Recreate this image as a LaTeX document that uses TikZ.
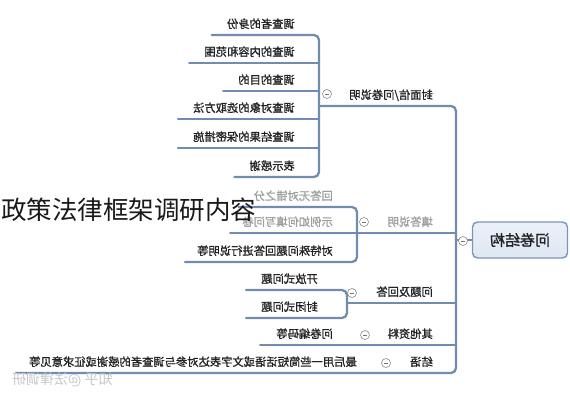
\documentclass[tikz,border=0pt]{standalone}
\usepackage{fontspec}
\setmainfont{Noto Sans CJK SC}
\newfontfamily\lblfont{Noto Sans CJK SC}[FakeBold=1.2]
\usepackage{graphicx}
\definecolor{ln}{RGB}{112,140,178}
\definecolor{rootfill}{RGB}{222,231,243}
\definecolor{rootdraw}{RGB}{125,148,182}
\definecolor{txt}{RGB}{34,34,34}
\begin{document}
\begin{tikzpicture}[x=1pt,y=-1pt,
  lbl/.style={font=\lblfont\fontsize{11.3}{13}\selectfont, text=txt, inner sep=0pt, anchor=base east},
  faded/.style={lbl, text=black!38},
  conn/.style={draw=ln, line width=2.3pt, rounded corners=5pt, line cap=round},
  tog/.style={circle, draw=black!45, fill=white, line width=0.6pt, minimum size=9pt, inner sep=0pt,
    path picture={\draw[black!55, line width=0.6pt] ([xshift=-2.3pt]path picture bounding box.center) -- ([xshift=2.3pt]path picture bounding box.center);}},
  rootbox/.style={draw=rootdraw, top color=rootfill!60, bottom color=rootfill, line width=1.4pt, rounded corners=5pt,
    minimum width=95pt, minimum height=36pt, font=\lblfont\fontsize{15}{17}\selectfont, text=txt}
]
\useasboundingbox (0,0) rectangle (570,400);

% ---- coordinates of the tree skeleton
\coordinate (g1a) at (319,35);
\coordinate (g1b) at (319,63);
\coordinate (g1c) at (319,91);
\coordinate (g1d) at (319,119);
\coordinate (g1e) at (319,148);
\coordinate (g1f) at (319,177);
\coordinate (g1j) at (319,106);
\coordinate (tr1) at (456,106);
\coordinate (tr2) at (456,233);
\coordinate (tr3) at (456,303);
\coordinate (tr4) at (456,345);
\coordinate (tr5) at (456,373);
\coordinate (g2a) at (357,207);
\coordinate (g2b) at (357,233);
\coordinate (g2c) at (357,262);
\coordinate (g3a) at (347,290);
\coordinate (g3j) at (347,303);
\coordinate (g3b) at (347,318);

% ---- root
\node[rootbox] (root) at (520,240) {\reflectbox{问卷结构}};

% ---- level 1 labels
\node[lbl]   (L1) at (433,99)  {\reflectbox{封面信/问卷说明}};
\node[faded] (L2) at (433,226) {\reflectbox{填答说明}};
\node[lbl]   (L3) at (433,296) {\reflectbox{问题及回答}};
\node[lbl]   (L4) at (433,338) {\reflectbox{其他资料}};
\node[lbl]   (L5) at (433,366) {\reflectbox{结语}};

% ---- level 2 labels
\node[lbl] (n11) at (295,28)  {\reflectbox{调查者的身份}};
\node[lbl] (n12) at (295,56)  {\reflectbox{调查的内容和范围}};
\node[lbl] (n13) at (295,84)  {\reflectbox{调查的目的}};
\node[lbl] (n14) at (295,112) {\reflectbox{调查对象的选取方法}};
\node[lbl] (n15) at (295,141) {\reflectbox{调查结果的保密措施}};
\node[lbl] (n16) at (295,170) {\reflectbox{表示感谢}};

\node[faded] (n21) at (333,200) {\reflectbox{回答无对错之分}};
\node[faded] (n22) at (333,226) {\reflectbox{示例如何填写问卷}};
\node[lbl]   (n23) at (333,255) {\reflectbox{对特殊问题回答进行说明等}};

\node[lbl] (n31) at (318,283) {\reflectbox{开放式问题}};
\node[lbl] (n32) at (318,311) {\reflectbox{封闭式问题}};

\node[lbl] (n41) at (333,338) {\reflectbox{问卷编码等}};

\node[lbl] (n51) at (357,366) {\reflectbox{最后用一些简短话语或文字表达对参与调查者的感谢或征求意见等}};

% ---- connectors
\draw[conn] ([xshift=-15pt]n11.west |- g1a) -- (g1a) -- (g1f) -- ([xshift=-15pt]n16.west |- g1f);
\draw[conn] ([xshift=-15pt]n12.west |- g1b) -- (g1b);
\draw[conn] ([xshift=-15pt]n13.west |- g1c) -- (g1c);
\draw[conn] ([xshift=-15pt]n14.west |- g1d) -- (g1d);
\draw[conn] ([xshift=-15pt]n15.west |- g1e) -- (g1e);

\draw[conn] (g1j) -- (tr1) -- (tr5) -- ([xshift=-13pt]n51.west |- tr5);

\draw[conn] ([xshift=-15pt]n21.west |- g2a) -- (g2a) -- (g2c) -- ([xshift=-12pt]n23.west |- g2c);
\draw[conn] ([xshift=-12pt]n22.west |- g2b) -- (tr2);

\draw[conn] ([xshift=-15pt]n31.west |- g3a) -- (g3a) -- (g3b) -- ([xshift=-15pt]n32.west |- g3b);
\draw[conn] (g3j) -- (tr3);

\draw[conn] ([xshift=-16pt]n41.west |- tr4) -- (tr4);

\draw[conn] (root.west) -- (root.west -| tr1);

% ---- collapse toggles
\node[tog] (t0) at (463,241) {};
\node[tog] (t1) at (327,94)  {};
\node[tog] (t2) at (364,222) {};
\node[tog] (t3) at (352,293) {};
\node[tog] (t4) at (365,335) {};
\node[tog] (t5) at (386,363) {};

% ---- overlay title and watermark
\node[anchor=west, inner sep=0pt, font=\fontsize{25.5}{28}\selectfont, text=black!90] (title) at (1,210) {政策法律框架调研内容};
\node[anchor=west, inner sep=0pt, font=\fontsize{14}{16}\selectfont, text=black!22] (wm) at (12,380) {\reflectbox{知乎 @法律调研}};
\end{tikzpicture}
\end{document}
